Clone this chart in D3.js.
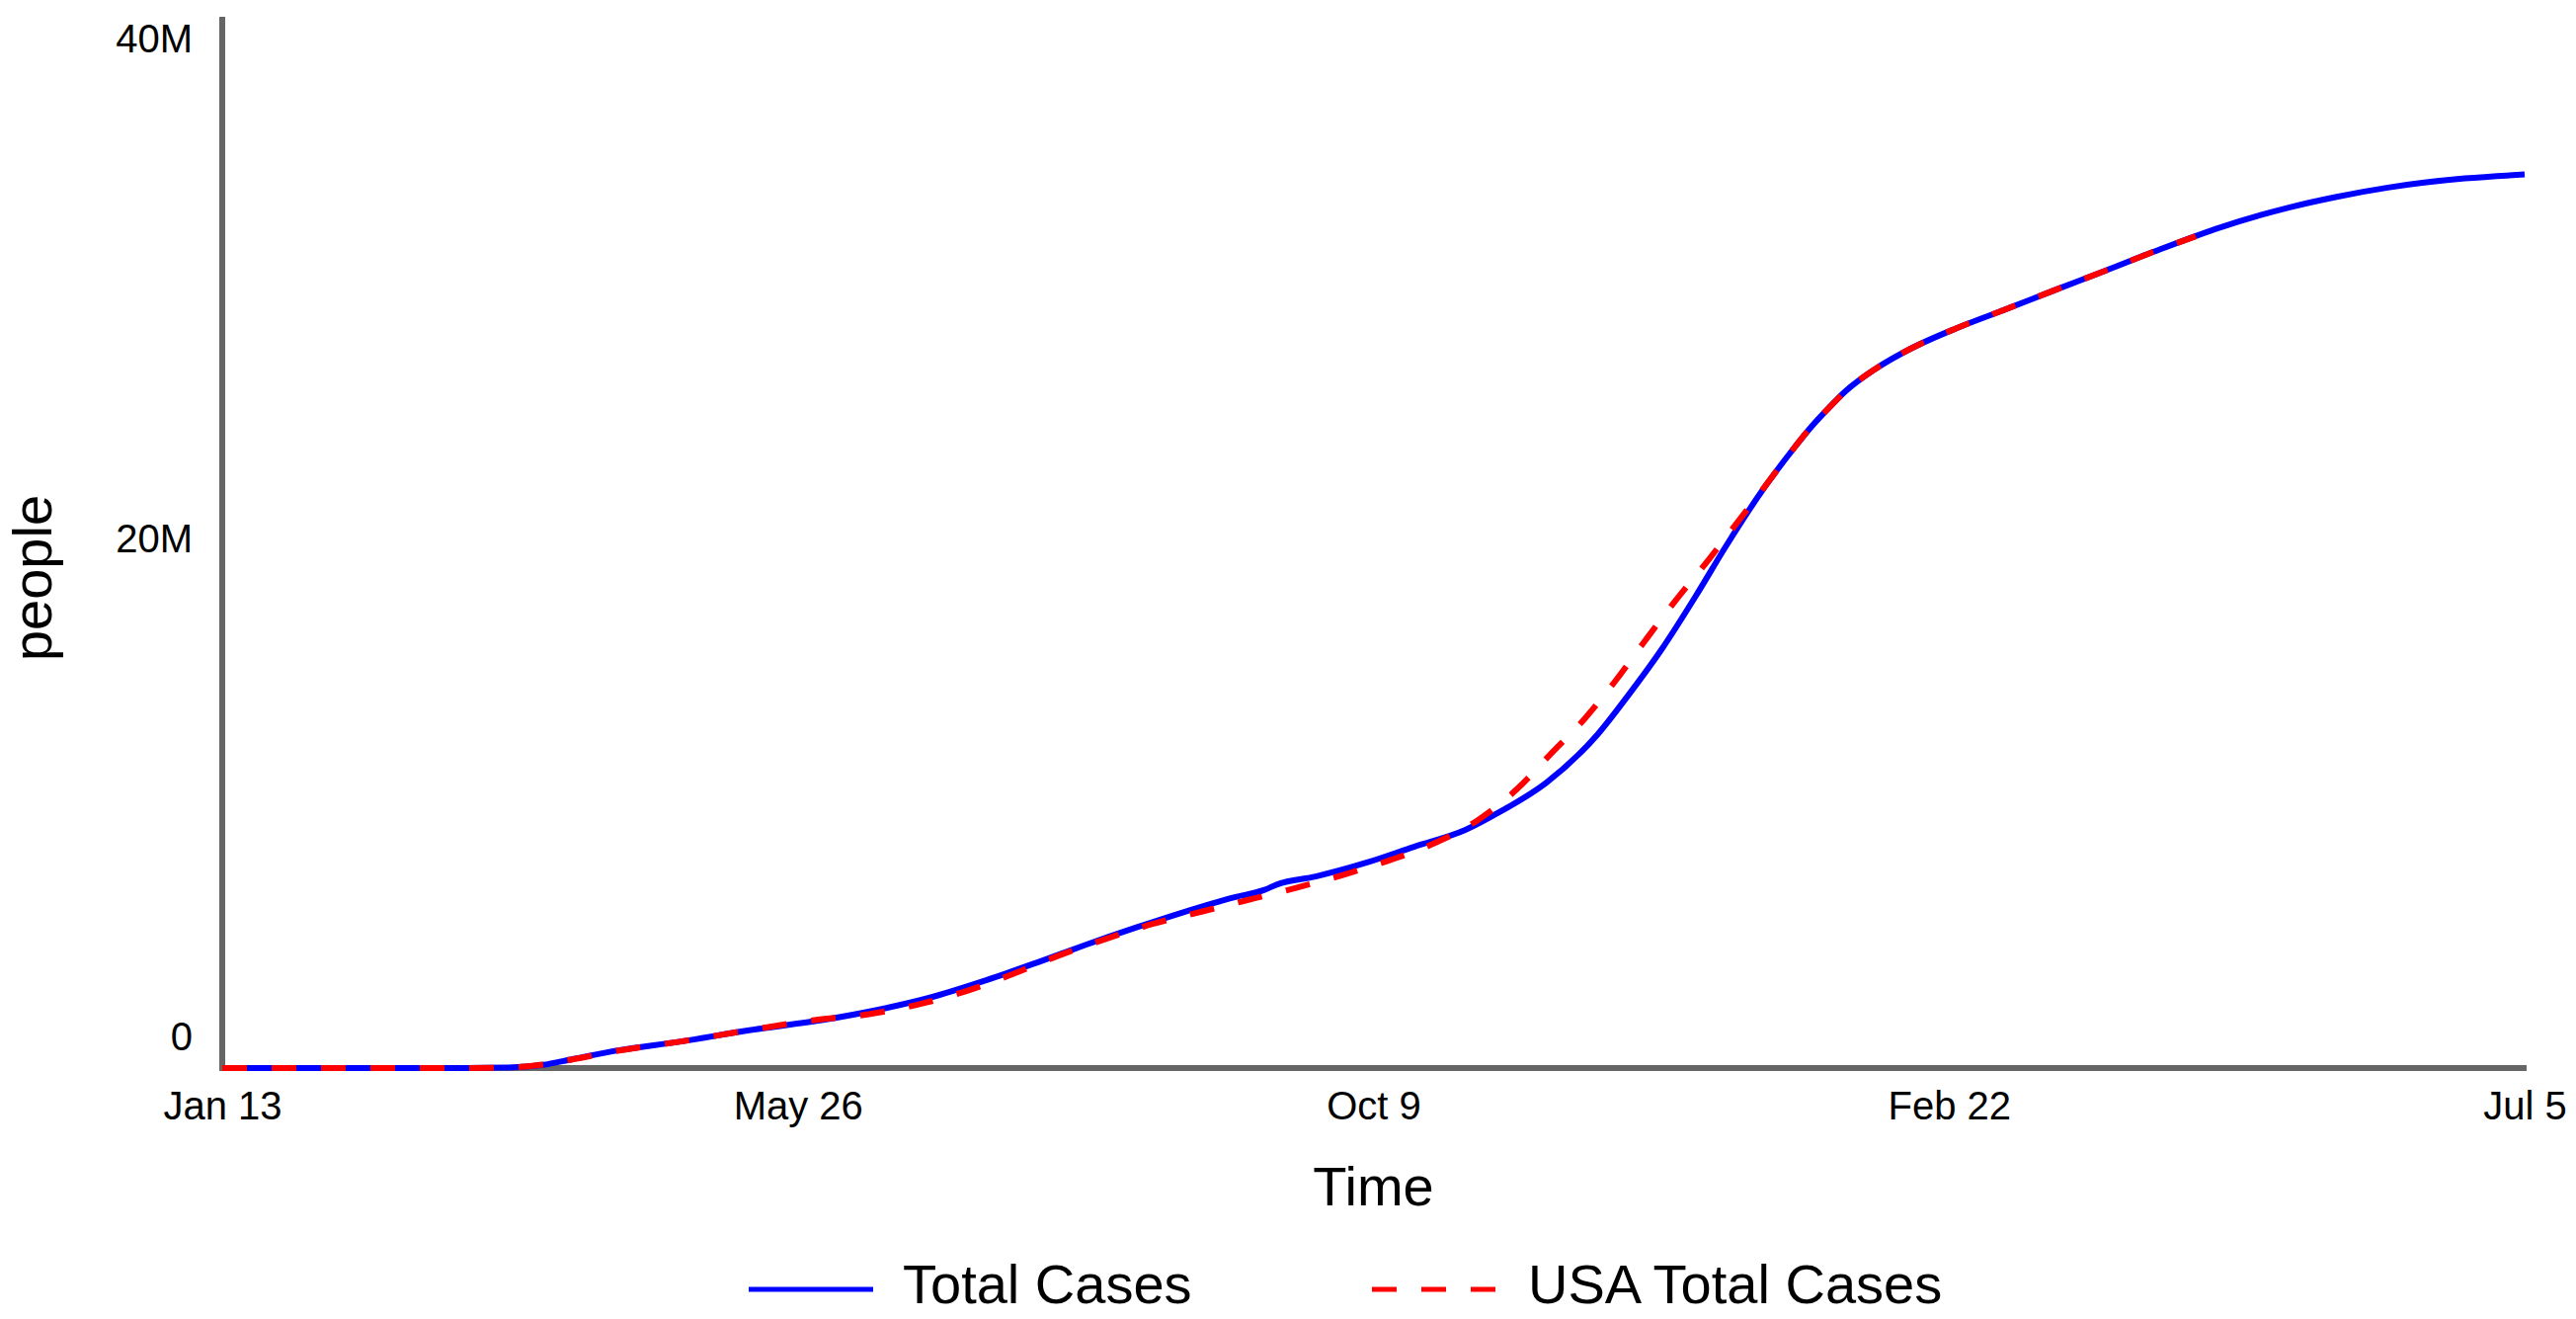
<!DOCTYPE html>
<html>
<head>
<meta charset="utf-8">
<script src="https://cdn.jsdelivr.net/npm/d3@7"></script>
<style>
    body { margin: 0; background: #fff; }
    text { font-family: "Liberation Sans", Arial, sans-serif; fill: #000; }
</style>
</head>
<body>
<div id="chart"></div>
<script>
// series, values in millions of people
var totalDates = ["2020-01-13","2020-03-10","2020-03-20","2020-03-28","2020-04-04","2020-04-15","2020-04-29",
    "2020-05-15","2020-06-02","2020-06-14","2020-06-26","2020-07-10","2020-07-22","2020-08-02","2020-08-14",
    "2020-08-25","2020-09-06","2020-09-13","2020-09-16","2020-09-25","2020-10-07","2020-10-18","2020-10-30",
    "2020-11-07","2020-11-18","2020-11-30","2020-12-07","2020-12-15","2020-12-23","2020-12-30","2021-01-07",
    "2021-01-15","2021-01-19","2021-01-23","2021-01-27","2021-02-03","2021-02-11","2021-02-22","2021-03-06",
    "2021-03-17","2021-03-29","2021-04-09","2021-04-25","2021-05-11","2021-05-22","2021-06-03","2021-06-21",
    "2021-07-05"];
var totalValues = [0, 0, 0.02, 0.12, 0.34, 0.68, 1.0,
    1.43, 1.84, 2.2, 2.65, 3.35, 4.03, 4.68, 5.35,
    5.93, 6.5, 6.78, 6.99, 7.29, 7.82, 8.42, 9.06,
    9.74, 10.86, 12.7, 14.15, 15.94, 17.97, 19.85, 21.85,
    23.6, 24.4, 25.1, 25.75, 26.6, 27.35, 28.15, 28.9,
    29.6, 30.35, 31.05, 32.0, 32.75, 33.15, 33.5, 33.85,
    34.0];

var usaDates = ["2020-01-13","2020-03-10","2020-03-20","2020-03-28","2020-04-04","2020-04-15","2020-04-29",
    "2020-05-15","2020-05-31","2020-06-12","2020-06-24","2020-07-05","2020-07-16","2020-07-27","2020-08-07",
    "2020-08-18","2020-08-29","2020-09-09","2020-09-20","2020-10-01","2020-10-12","2020-10-23","2020-11-02",
    "2020-11-11","2020-11-19","2020-11-27","2020-12-04","2020-12-11","2020-12-18","2020-12-26","2020-12-31",
    "2021-01-08","2021-01-15","2021-01-19","2021-01-23","2021-01-27","2021-02-03","2021-02-11","2021-02-22",
    "2021-03-06","2021-03-17","2021-03-29","2021-04-09","2021-04-19"];
var usaValues = [0, 0, 0.02, 0.13, 0.33, 0.67, 1.0,
    1.43, 1.83, 2.04, 2.42, 2.92, 3.57, 4.29, 4.92,
    5.49, 5.94, 6.39, 6.84, 7.33, 7.89, 8.57, 9.44,
    10.6, 11.95, 13.3, 14.7, 16.24, 17.74, 19.35, 20.4,
    22.1, 23.6, 24.4, 25.1, 25.75, 26.6, 27.35, 28.15,
    28.9, 29.6, 30.35, 31.05, 31.65];

var xTickLabels = ["Jan 13", "May 26", "Oct 9", "Feb 22", "Jul 5"];
var yTickValues = [0, 20, 40];
var yTickLabels = ["0", "20M", "40M"];
var seriesNames = ["Total Cases", "USA Total Cases"];
var seriesColors = ["#0000ff", "#ff0000"];

var width = 2608, height = 1335;
var plotLeft = 225, plotRight = 2556, plotTop = 17, plotBottom = 1081;

var parse = d3.timeParse("%Y-%m-%d");
var totalData = totalDates.map((d, i) => ({date: parse(d), value: totalValues[i]}));
var usaData = usaDates.map((d, i) => ({date: parse(d), value: usaValues[i]}));

var t0 = parse(totalDates[0]), t1 = parse(totalDates[totalDates.length - 1]);

var x = d3.scaleTime().domain([t0, t1]).range([plotLeft, plotRight]);
var y = d3.scaleLinear().domain([0, 40]).range([plotBottom, plotTop]);

var svg = d3.select("#chart").append("svg")
    .attr("width", width)
    .attr("height", height);

// x axis, ticks spread evenly over the time span
let xTicks = xTickLabels.map((l, i) => new Date(+t0 + i * (t1 - t0) / (xTickLabels.length - 1)));
let xAxis = svg.append("g")
    .attr("transform", `translate(0, ${plotBottom})`)
    .call(d3.axisBottom(x).tickValues(xTicks).tickSize(0).tickFormat((d, i) => xTickLabels[i]));
xAxis.select(".domain")
    .attr("d", `M${plotLeft - 3},0H${plotRight + 2}`)
    .attr("stroke", "#666")
    .attr("stroke-width", 6);
xAxis.selectAll("text")
    .attr("y", 52)
    .attr("dy", null)
    .attr("font-size", 40)
    .attr("fill", "#000");

// y axis, labels kept inside the axis extent
let yAxis = svg.append("g")
    .attr("transform", `translate(${plotLeft}, 0)`)
    .call(d3.axisLeft(y).tickValues(yTickValues).tickSize(0).tickFormat((d, i) => yTickLabels[i]));
yAxis.select(".domain")
    .attr("d", `M0,${plotTop}V${plotBottom + 3}`)
    .attr("stroke", "#666")
    .attr("stroke-width", 6);
yAxis.selectAll(".tick").attr("transform", null);
yAxis.selectAll("text")
    .attr("x", -30)
    .attr("dy", null)
    .attr("y", d => Math.min(Math.max(y(d) + 10, plotTop + 36), plotBottom - 18))
    .attr("font-size", 40)
    .attr("fill", "#000");

// axis titles
svg.append("text")
    .attr("x", (plotLeft + plotRight) / 2)
    .attr("y", 1220)
    .attr("text-anchor", "middle")
    .attr("font-size", 56)
    .text("Time");
svg.append("text")
    .attr("transform", "translate(52, 585) rotate(-90)")
    .attr("text-anchor", "middle")
    .attr("font-size", 56)
    .text("people");

// lines
let line = d3.line()
    .x(d => x(d.date))
    .y(d => y(d.value))
    .curve(d3.curveMonotoneX);

svg.append("path")
    .datum(totalData)
    .attr("fill", "none")
    .attr("stroke", seriesColors[0])
    .attr("stroke-width", 6)
    .attr("d", line);
svg.append("path")
    .datum(usaData)
    .attr("fill", "none")
    .attr("stroke", seriesColors[1])
    .attr("stroke-width", 6)
    .attr("stroke-dasharray", "25,25")
    .attr("d", line);

// legend
let legendX = [758, 1389];
let legend = svg.selectAll(".legend").data(seriesNames)
    .enter().append("g")
    .attr("class", "legend")
    .attr("transform", (d, i) => `translate(${legendX[i]}, 1305)`);
legend.append("line")
    .attr("x1", 0).attr("x2", 126)
    .attr("y1", 0).attr("y2", 0)
    .attr("stroke", (d, i) => seriesColors[i])
    .attr("stroke-width", 5)
    .attr("stroke-dasharray", (d, i) => i == 1 ? "25,25" : null);
legend.append("text")
    .attr("x", (d, i) => i == 1 ? 158 : 156)
    .attr("y", 14)
    .attr("font-size", 56)
    .text(d => d);
</script>
</body>
</html>
